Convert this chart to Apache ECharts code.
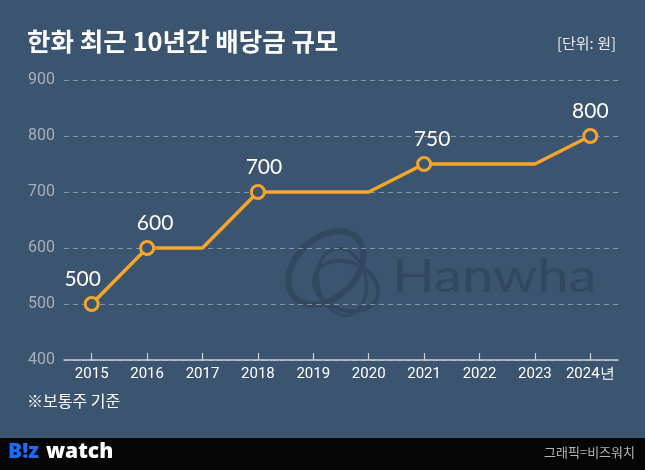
<!DOCTYPE html>
<html>
<head>
<meta charset="utf-8">
<script src="https://cdn.jsdelivr.net/npm/echarts@6/dist/echarts.min.js"></script>
<style>
html,body{margin:0;padding:0;background:#3b5470;}
#chart{width:645px;height:470px;}
</style>
</head>
<body>
<div id="chart"></div>
<script>
var categories = ['2015','2016','2017','2018','2019','2020','2021','2022','2023','2024년'];
var dividends = [500, 600, 600, 700, 700, 700, 750, 750, 750, 800];
var markedPoints = [true, true, false, true, false, false, true, false, false, true];
var yTicks = { min: 400, max: 900, interval: 100 };
var titleText = '한화 최근 10년간 배당금 규모';
var unitText = '[단위: 원]';
var noteText = '※보통주 기준';
var creditText = '그래픽=비즈워치';

var labelShift = [-9, 8, 0, 6, 0, 0, 8, 0, 0, 0];

var BG = '#3b5470';
var ORANGE = '#f6a52c';
var WM = '#31485f';

var seriesData = dividends.map(function (v, i) {
  var marked = markedPoints[i];
  return {
    value: v,
    symbol: marked ? 'circle' : 'none',
    label: { show: marked, offset: [labelShift[i], 0] }
  };
});

var chart = echarts.init(document.getElementById('chart'), null, { renderer: 'canvas' });
chart.setOption({
  backgroundColor: BG,
  animation: false,
  grid: { left: 64, right: 27, top: 80, bottom: 110 },
  xAxis: {
    type: 'category',
    data: categories,
    boundaryGap: true,
    axisLine: { show: true, lineStyle: { color: '#c9d0d8', width: 1.5 } },
    axisTick: { show: true, alignWithLabel: true, inside: true, length: 7, interval: 0, lineStyle: { color: '#c9d0d8', width: 1.2 } },
    axisLabel: { color: '#ffffff', fontSize: 15, interval: 0, fontFamily: 'Roboto, Liberation Sans, sans-serif', margin: 7 },
    splitLine: { show: false }
  },
  yAxis: {
    type: 'value',
    min: yTicks.min,
    max: yTicks.max,
    interval: yTicks.interval,
    axisLine: { show: false },
    axisTick: { show: false },
    axisLabel: { color: '#a6b0bc', fontSize: 16, fontFamily: 'Roboto, Liberation Sans, sans-serif', margin: 9 },
    splitLine: { show: true, lineStyle: { color: 'rgba(190,200,212,0.55)', width: 1, type: [5, 4] } }
  },
  series: [{
    type: 'line',
    data: seriesData,
    showAllSymbol: true,
    symbolSize: 13,
    lineStyle: { color: ORANGE, width: 3.5 },
    itemStyle: { color: BG, borderColor: ORANGE, borderWidth: 3 },
    label: {
      show: true,
      position: 'top',
      distance: 6,
      color: '#ffffff',
      fontSize: 21,
      fontFamily: 'Lato, Open Sans, sans-serif',
      fontWeight: 'normal'
    },
    z: 5
  }],
  graphic: [
    { type: 'ellipse', x: 326, y: 268, rotation: 0.75, shape: { cx: 0, cy: 0, rx: 43, ry: 30 }, style: { fill: null, stroke: WM, lineWidth: 6 }, z: -10, silent: true },
    { type: 'ellipse', x: 346, y: 286, rotation: -0.35, shape: { cx: 0, cy: 0, rx: 33, ry: 24 }, style: { fill: null, stroke: WM, lineWidth: 4 }, z: -10, silent: true },
    { type: 'ellipse', x: 342, y: 282, rotation: 0.2, shape: { cx: 0, cy: 0, rx: 24, ry: 34 }, style: { fill: null, stroke: WM, lineWidth: 3 }, z: -10, silent: true },
    { type: 'text', x: 392, y: 277, scaleX: 1.22, style: { text: 'Hanwha', fill: WM, font: '400 46px Lato, sans-serif', textVerticalAlign: 'middle', verticalAlign: 'middle' }, z: -10, silent: true },
    { type: 'text', left: 27, top: 29, style: { text: titleText, fill: '#ffffff', font: 'bold 25.5px "Noto Sans CJK KR", sans-serif' }, z: 10 },
    { type: 'text', right: 29, top: 36, style: { text: unitText, fill: '#e6e9ed', font: '15px "Noto Sans CJK KR", sans-serif' }, z: 10 },
    { type: 'text', left: 27, top: 393, style: { text: noteText, fill: '#ffffff', font: '16px "Noto Sans CJK KR", sans-serif' }, z: 10 },
    { type: 'rect', left: 0, top: 438, shape: { width: 645, height: 32 }, style: { fill: '#050505' }, z: 1 },
    { type: 'text', left: 8, top: 442, style: { text: 'B!z', fill: '#1d6bff', font: '800 21px "Open Sans", sans-serif' }, z: 10 },
    { type: 'text', left: 46, top: 442, style: { text: 'watch', fill: '#ffffff', font: '800 21px "Open Sans", sans-serif' }, z: 10 },
    { type: 'text', right: 10, top: 446, style: { text: creditText, fill: '#b5b5b5', font: '13px "Noto Sans CJK KR", sans-serif' }, z: 10 }
  ]
});
</script>
</body>
</html>
